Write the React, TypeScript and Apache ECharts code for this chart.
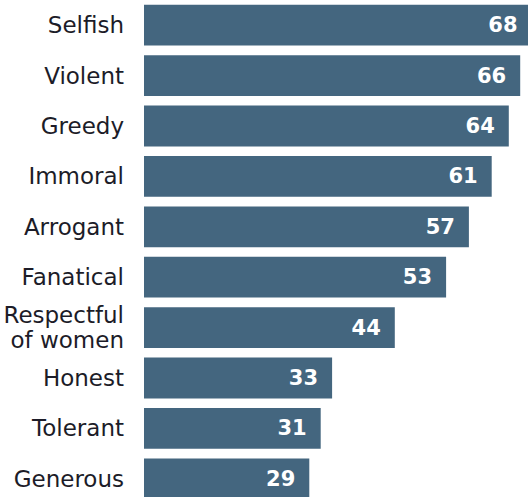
import React, { useEffect, useRef } from "react";
import * as echarts from "echarts";

const categories = [
  "Selfish",
  "Violent",
  "Greedy",
  "Immoral",
  "Arrogant",
  "Fanatical",
  "Respectful\nof women",
  "Honest",
  "Tolerant",
  "Generous",
];
const values = [68, 66, 64, 61, 57, 53, 44, 33, 31, 29];

export default function App() {
  const ref = useRef<HTMLDivElement>(null);
  useEffect(() => {
    if (!ref.current) return;
    const chart = echarts.init(ref.current, undefined, { renderer: "svg" });
    chart.setOption({
      animation: false,
      backgroundColor: "#ffffff",
      grid: { left: 144, top: 0, width: 399, height: 504, containLabel: false },
      xAxis: {
        type: "value",
        min: 0,
        max: 70,
        show: false,
      },
      yAxis: {
        type: "category",
        data: categories,
        inverse: true,
        axisLine: { show: false },
        axisTick: { show: false },
        splitLine: { show: false },
        axisLabel: {
          margin: 20,
          color: "#1c1c28",
          fontFamily: "DejaVu Sans",
          fontSize: 23,
          lineHeight: 25,
          align: "right",
        },
      },
      series: [
        {
          type: "bar",
          data: values,
          barCategoryGap: "19%",
          itemStyle: { color: "#44667f" },
          label: {
            show: true,
            position: "insideRight",
            distance: 14,
            color: "#ffffff",
            fontFamily: "DejaVu Sans",
            fontWeight: "bold",
            fontSize: 21,
          },
        },
      ],
    });
    return () => chart.dispose();
  }, []);
  return (
    <div
      ref={ref}
      style={{ position: "fixed", left: 0, top: 0, width: 560, height: 510, background: "#fff" }}
    />
  );
}
